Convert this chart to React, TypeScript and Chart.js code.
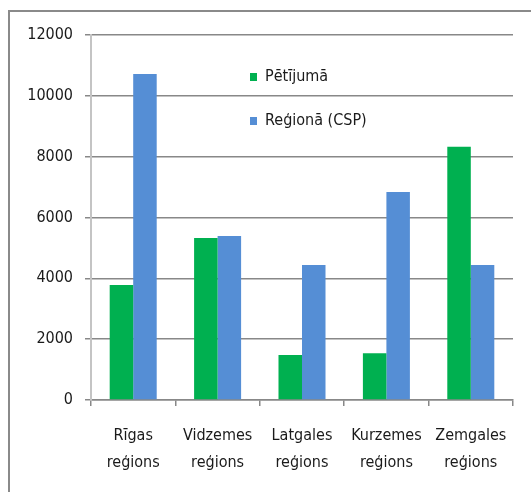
import React, { useEffect, useRef } from "react";
import { Chart, registerables } from "chart.js";

Chart.register(...registerables);

const categories: string[][] = [
  ["Rīgas", "reģions"],
  ["Vidzemes", "reģions"],
  ["Latgales", "reģions"],
  ["Kurzemes", "reģions"],
  ["Zemgales", "reģions"],
];
const seriesNames = ["Pētījumā", "Reģionā (CSP)"];
const petijuma = [3780, 5330, 1480, 1540, 8330];
const regiona = [10720, 5390, 4440, 6840, 4440];
const yMax = 12000;
const yStep = 2000;

const FONT = "'DejaVu Sans Condensed', 'Liberation Sans Narrow', 'Liberation Sans', sans-serif";
const COLORS = ["#00B050", "#558ED5"];

const legendPlugin = {
  id: "customLegend",
  afterDraw(chart: any) {
    const ctx = chart.ctx;
    const area = chart.chartArea;
    const x = area.left + 159;
    const y0 = area.top + 42;
    const gap = 44;
    ctx.save();
    chart.data.datasets.forEach((ds: any, i: number) => {
      const cy = y0 + i * gap;
      ctx.fillStyle = ds.backgroundColor;
      ctx.fillRect(x, cy - 4, 7, 8);
      ctx.fillStyle = "#1a1a1a";
      ctx.font = `16px ${FONT}`;
      ctx.textBaseline = "middle";
      ctx.textAlign = "left";
      ctx.fillText(ds.label, x + 15, cy);
    });
    ctx.restore();
  },
};

export default function App() {
  const ref = useRef<HTMLCanvasElement>(null);
  useEffect(() => {
    if (!ref.current) return;
    const chart = new Chart(ref.current, {
      type: "bar",
      data: {
        labels: categories,
        datasets: [
          { label: seriesNames[0], data: petijuma, backgroundColor: COLORS[0] },
          { label: seriesNames[1], data: regiona, backgroundColor: COLORS[1] },
        ],
      },
      options: {
        animation: false,
        responsive: false,
        devicePixelRatio: 1,
        layout: { padding: { top: 35, right: 18, left: 0, bottom: 0 } },
        datasets: { bar: { categoryPercentage: 0.557, barPercentage: 1 } } as any,
        plugins: { legend: { display: false }, tooltip: { enabled: false } },
        scales: {
          x: {
            afterFit: (s: any) => { s.height = 92; },
            grid: { offset: true, drawOnChartArea: false, drawTicks: true, tickLength: 6, color: "#888", lineWidth: 1.5 },
            border: { color: "#888", width: 1.5 },
            ticks: { font: { family: FONT, size: 16, lineHeight: 1.7 }, color: "#1a1a1a", padding: 16, maxRotation: 0, autoSkip: false },
          },
          y: {
            min: 0,
            max: yMax,
            afterFit: (s: any) => { s.width = 91; },
            grid: { color: "#888", lineWidth: 1.5, tickLength: 6 },
            border: { color: "#c4c4c4", width: 2 },
            ticks: { stepSize: yStep, font: { family: FONT, size: 16 }, color: "#1a1a1a", padding: 12, callback: (v: any) => String(v) },
          },
        },
      },
      plugins: [legendPlugin],
    });
    return () => chart.destroy();
  }, []);
  return (
    <div style={{ position: "fixed", left: 0, top: 0, width: 531, height: 492, overflow: "hidden", background: "#fff" }}>
      <div style={{ position: "absolute", left: 8, top: 10, width: 700, height: 700, border: "2px solid #8a8a8a" }} />
      <canvas ref={ref} width={531} height={492} style={{ position: "absolute", left: 0, top: 0 }} />
    </div>
  );
}
